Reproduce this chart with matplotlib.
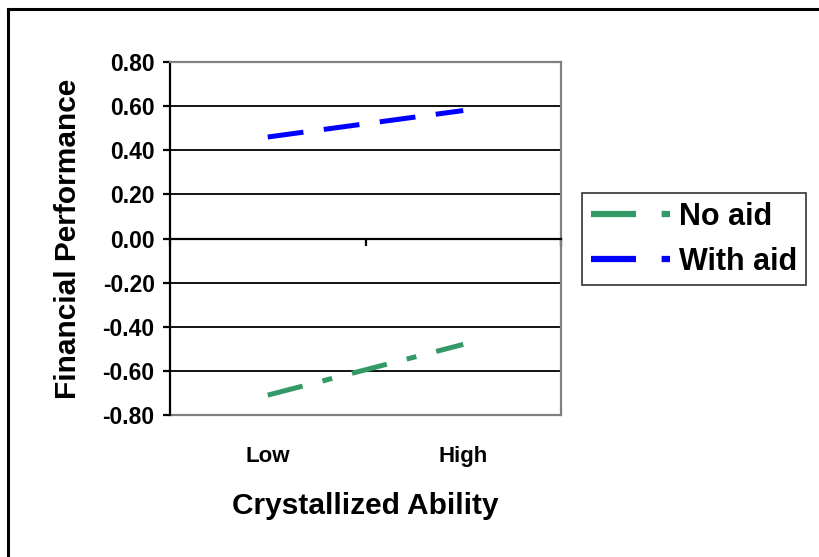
import numpy as np
import matplotlib.pyplot as plt
from matplotlib.lines import Line2D

plt.rcParams['font.family'] = ['Liberation Sans', 'DejaVu Sans']
plt.rcParams['font.weight'] = 'bold'

# data
categories = ['Low', 'High']
no_aid = [-0.71, -0.48]
with_aid = [0.46, 0.58]
yticks = [-0.8, -0.6, -0.4, -0.2, 0.0, 0.2, 0.4, 0.6, 0.8]

fig = plt.figure(figsize=(8.19, 5.57), dpi=100)
ax = fig.add_axes([170/819, 1-415/557, (561-170)/819, (415-62)/557])

x = np.arange(len(categories)) + 0.5

lw = 3.6
ax.plot(x, no_aid, color='#339966', lw=lw, dashes=(7.2, 4.1, 2.0, 4.1),
        dash_capstyle='butt', label='No aid')
ax.plot(x, with_aid, color='#0000ff', lw=lw, dashes=(7.2, 4.1),
        dash_capstyle='butt', label='With aid')

ax.set_xlim(0, 2)
ax.set_ylim(-0.8, 0.8)
ax.set_yticks(yticks)
ax.set_yticklabels(['%.2f' % v for v in yticks])

# horizontal gridlines
for v in yticks[1:-1]:
    if v != 0:
        ax.axhline(v, color='black', lw=1.3, zorder=0)

# category axis sits on zero
ax.spines['bottom'].set_position(('data', 0))
ax.spines['bottom'].set_color('black')
ax.spines['bottom'].set_linewidth(1.6)
ax.set_xticks([0, 1, 2])
ax.set_xticklabels([])
ax.tick_params(axis='x', direction='out', length=5, width=1.6, color='black')
ax.axhline(-0.8, color='#808080', lw=1.6, zorder=0, clip_on=False)

ax.spines['left'].set_color('black')
ax.spines['left'].set_linewidth(1.6)
ax.spines['top'].set_color('#808080')
ax.spines['top'].set_linewidth(1.6)
ax.spines['right'].set_color('#808080')
ax.spines['right'].set_linewidth(1.6)
ax.tick_params(axis='y', direction='out', length=5, width=1.6, pad=6,
               labelsize=16.5, color='black')

for xi, c in zip(x, categories):
    ax.text(xi, -0.118, c, transform=ax.get_xaxis_transform(),
            ha='center', va='center', fontsize=16, fontweight='bold')

ax.set_ylabel('Financial Performance', fontsize=21.5, fontweight='bold', labelpad=15)
ax.text(0.5, -0.258, 'Crystallized Ability', transform=ax.transAxes,
        ha='center', va='center', fontsize=21.5, fontweight='bold')

leg = ax.legend(loc='upper left', bbox_to_anchor=(582/819, 1-193/557),
                bbox_transform=fig.transFigure, fontsize=22, frameon=True,
                fancybox=False, edgecolor='black', handlelength=2.6,
                handletextpad=0.3, borderpad=0.28, labelspacing=0.5,
                borderaxespad=0)
leg.get_frame().set_linewidth(1.2)
for h in leg.get_lines():
    h.set_linewidth(4.5)

# outer chart frame
fig.add_artist(Line2D([7.5/819, 7.5/819], [0, 1-8.5/557], color='black', lw=2.2,
                      transform=fig.transFigure))
fig.add_artist(Line2D([7.5/819, 1], [1-8.5/557, 1-8.5/557], color='black', lw=2.2,
                      transform=fig.transFigure))

plt.savefig('out.png', dpi=100)
